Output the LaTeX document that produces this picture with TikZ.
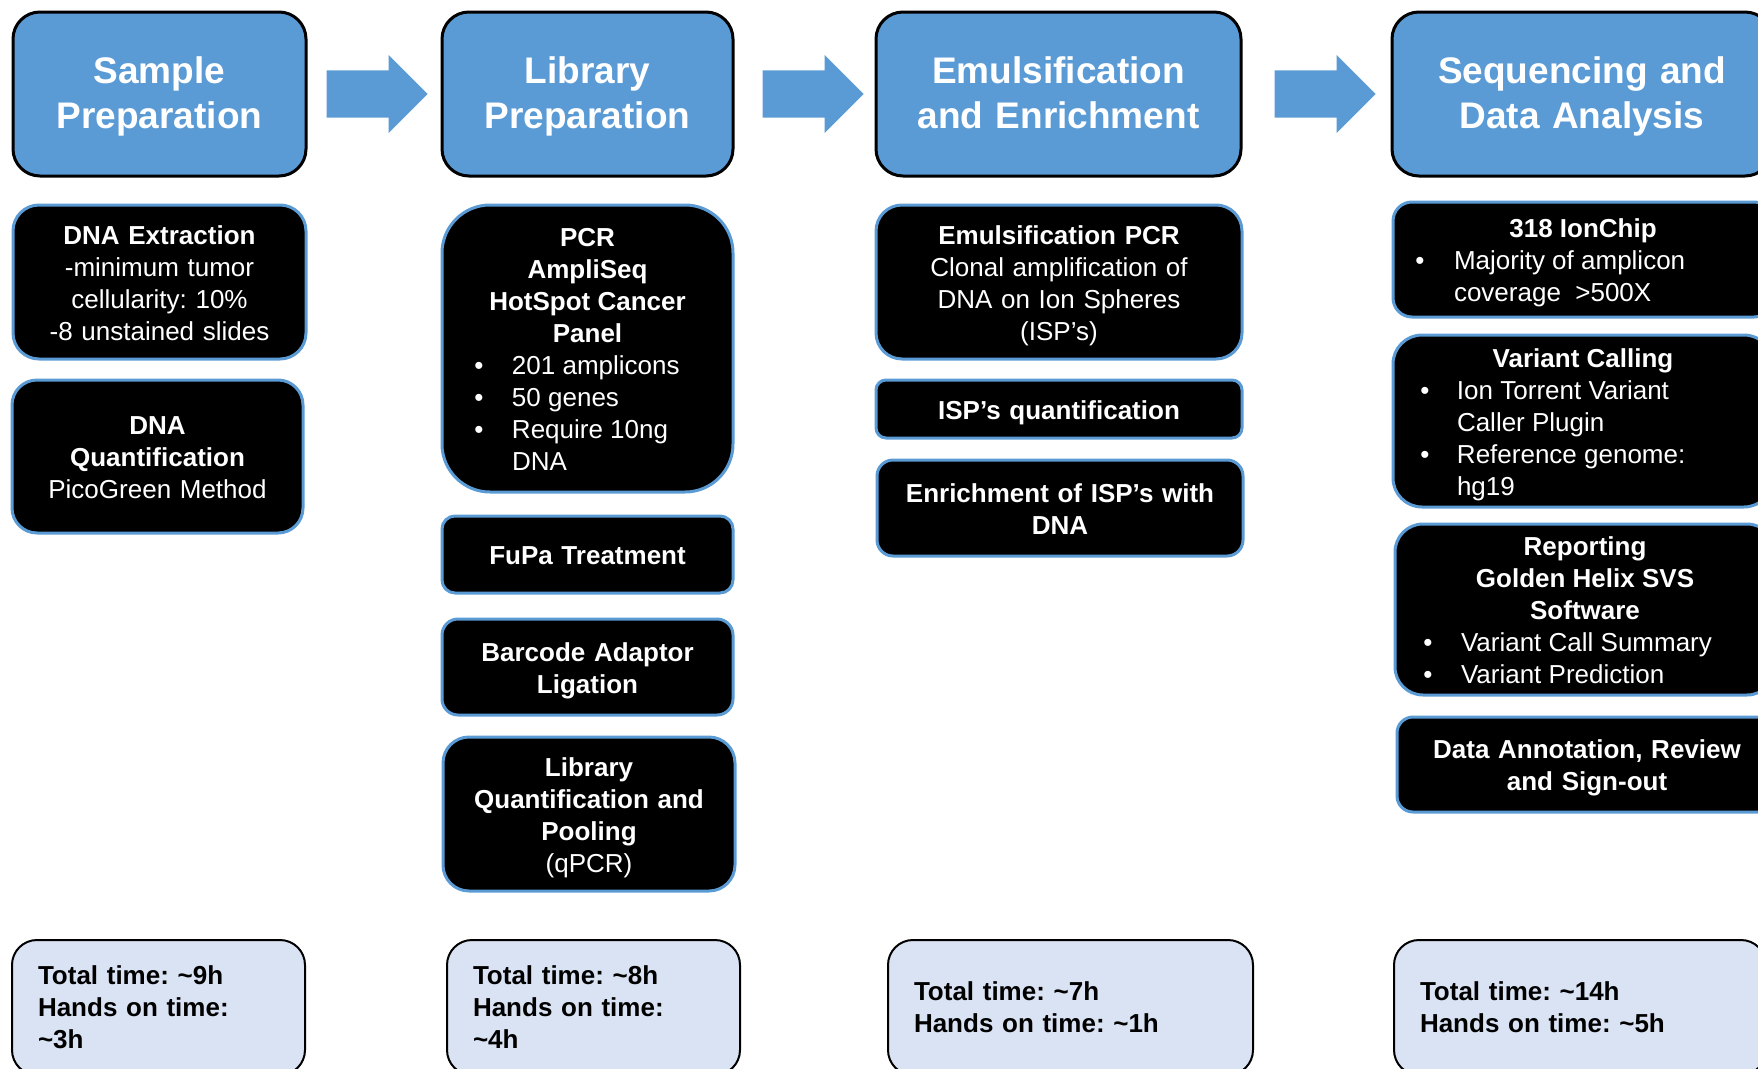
\documentclass[tikz,border=0pt]{standalone}
\usepackage{fontspec}
\setmainfont{Liberation Sans}
\frenchspacing
\usetikzlibrary{positioning,shapes.arrows}
\definecolor{headblue}{HTML}{5B9BD5}
\definecolor{paleblue}{HTML}{DAE3F3}
\newcommand\boxlines[2]{\vbox{\hsize=#1\relax#2}}
\newcommand\ttl[1]{\hbox to\hsize{\rule{0pt}{26pt}\hss\textbf{#1}\hss}}
\newcommand\itm[3]{\hbox to\hsize{\rule{0pt}{26pt}\hspace*{#1}\makebox[0pt]{\textbullet}\hspace*{\dimexpr#2-#1\relax}#3\hss}}
\newcommand\cnt[2]{\hbox to\hsize{\rule{0pt}{26pt}\hspace*{#1}#2\hss}}
\begin{document}
\begin{tikzpicture}[x=1pt,y=-1pt,
    head node/.style={draw,line width=3pt,fill=headblue,text=white,font=\fontsize{37pt}{45pt}\selectfont\bfseries,align=center,inner sep=0pt,rounded corners=27pt,minimum height=164pt,
      execute at begin node={\rule{0pt}{35pt}},execute at end node={\rule[-12pt]{0pt}{12pt}}},
    task node/.style={draw=headblue,line width=3pt,fill=black,text=white,font=\fontsize{26pt}{32pt}\selectfont,align=center,inner sep=0pt,
      execute at begin node={\rule{0pt}{26pt}},execute at end node={\rule[-6pt]{0pt}{6pt}}},
    time node/.style={draw,line width=2pt,fill=paleblue,font=\fontsize{26pt}{32pt}\selectfont\bfseries,align=left,inner sep=0pt,rounded corners=25pt,minimum height=135pt},
    flow arrow/.style={single arrow,fill=headblue,inner xsep=0pt,inner ysep=23.5pt,minimum height=101pt,minimum width=78pt,single arrow head extend=15.5pt}]
    \useasboundingbox (0,0) rectangle (1758,1068);
    \clip (0,0) rectangle (1758,1068);
    % stages
    \node[head node,text width=293pt] (h1) at (159.5,94) {Sample\\Preparation};
    \node[head node,text width=291pt] (h2) at (587.5,94) {Library\\Preparation};
    \node[head node,text width=365pt] (h3) at (1058.5,94) {Emulsification\\and Enrichment};
    \node[head node,text width=380pt] (h4) at (1582,94) {Sequencing and\\Data Analysis};
    \node[flow arrow,right=19pt of h1] (a1) {};
    \node[flow arrow,right=28pt of h2] (a2) {};
    \node[flow arrow,right=32pt of h3] (a3) {};
    % sample preparation
    \node[task node,text width=293pt,minimum height=154pt,rounded corners=26pt] (p1) at (159.5,282) {\textbf{DNA Extraction}\\-minimum tumor\\cellularity: 10\%\\-8 unstained slides};
    \node[task node,text width=291pt,minimum height=153pt,rounded corners=25pt] (p2) at (157.5,456.5) {\textbf{DNA}\\\textbf{Quantification}\\PicoGreen Method};
    % library preparation
    \node[task node,minimum width=291pt,minimum height=287pt,rounded corners=48pt] (l1) at (587.5,348.5) {\boxlines{291pt}{\ttl{PCR}\ttl{AmpliSeq}\ttl{HotSpot Cancer}\ttl{Panel}\itm{37pt}{70pt}{201 amplicons}\itm{37pt}{70pt}{50 genes}\itm{37pt}{70pt}{Require 10ng}\cnt{70pt}{DNA}}};
    \node[task node,text width=291pt,minimum height=77pt,rounded corners=13pt] (l2) at (587.5,554.5) {\textbf{FuPa Treatment}};
    \node[task node,text width=291pt,minimum height=96pt,rounded corners=16pt] (l3) at (587.5,667) {\textbf{Barcode Adaptor}\\\textbf{Ligation}};
    \node[task node,text width=292pt,minimum height=154pt,rounded corners=26pt] (l4) at (589,814) {\textbf{Library}\\\textbf{Quantification and}\\\textbf{Pooling}\\(qPCR)};
    % emulsification
    \node[task node,text width=366pt,minimum height=154pt,rounded corners=26pt] (m1) at (1059,282) {\textbf{Emulsification PCR}\\Clonal amplification of\\DNA on Ion Spheres\\(ISP's)};
    \node[task node,text width=366pt,minimum height=58pt,rounded corners=10pt] (m2) at (1059,409) {\textbf{ISP's quantification}};
    \node[task node,text width=366pt,minimum height=96pt,rounded corners=16pt] (m3) at (1060,508) {\textbf{Enrichment of ISP's with}\\\textbf{DNA}};
    % sequencing
    \node[task node,minimum width=380pt,minimum height=115pt,rounded corners=19pt] (s1) at (1583,259.5) {\boxlines{380pt}{\ttl{318 IonChip}\itm{27pt}{61pt}{Majority of amplicon}\cnt{61pt}{coverage\ \ >500X}}};
    \node[task node,minimum width=380pt,minimum height=172pt,rounded corners=29pt] (s2) at (1583,421) {\boxlines{380pt}{\ttl{Variant Calling}\itm{32pt}{64pt}{Ion Torrent Variant}\cnt{64pt}{Caller Plugin}\itm{32pt}{64pt}{Reference genome:}\cnt{64pt}{hg19}}};
    \node[task node,minimum width=380pt,minimum height=171pt,rounded corners=28pt] (s3) at (1585,609.5) {\boxlines{380pt}{\ttl{Reporting}\ttl{Golden Helix SVS}\ttl{Software}\itm{33pt}{66pt}{Variant Call Summary}\itm{33pt}{66pt}{Variant Prediction}}};
    \node[task node,text width=380pt,minimum height=95pt,rounded corners=16pt] (s4) at (1587,764.5) {\textbf{Data Annotation, Review}\\\textbf{and Sign-out}};
    % times
    \node[time node,minimum width=293pt,text width=241pt] (t1) at (158.5,1007.5) {Total time: \textasciitilde9h\\Hands on time:\\\textasciitilde3h};
    \node[time node,minimum width=293pt,text width=241pt] (t2) at (593.5,1007.5) {Total time: \textasciitilde8h\\Hands on time:\\\textasciitilde4h};
    \node[time node,minimum width=365pt,text width=313pt] (t3) at (1070.5,1007.5) {Total time: \textasciitilde7h\\Hands on time: \textasciitilde1h};
    \node[time node,minimum width=372pt,text width=320pt] (t4) at (1580,1007.5) {Total time: \textasciitilde14h\\Hands on time: \textasciitilde5h};
\end{tikzpicture}
\end{document}
